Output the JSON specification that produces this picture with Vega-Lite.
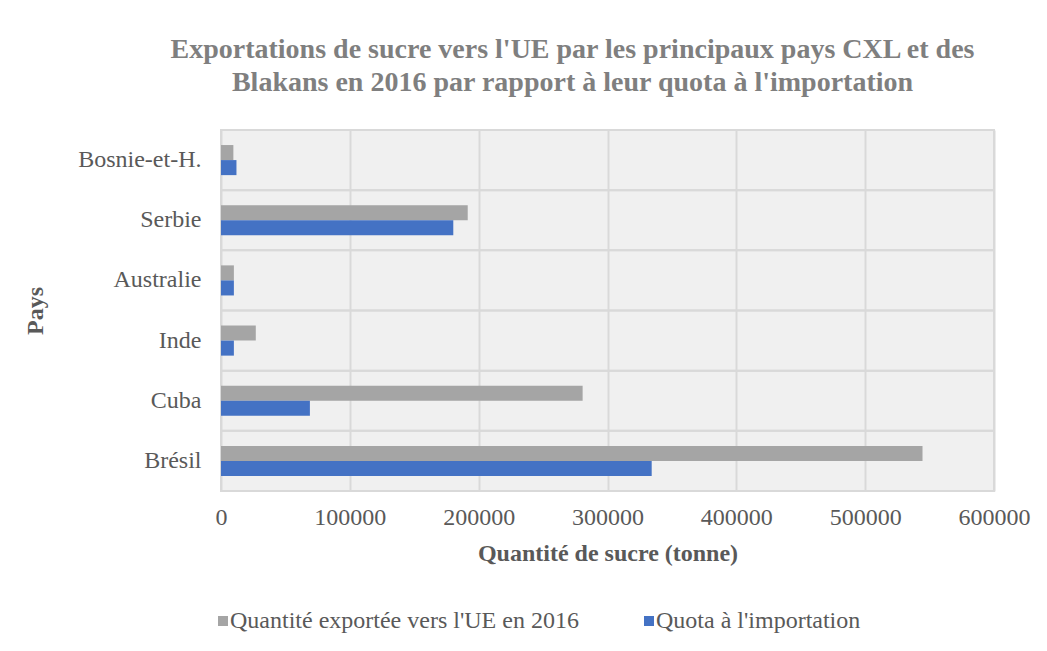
{
  "$schema": "https://vega.github.io/schema/vega-lite/v6.json",
  "width": 773,
  "height": 361,
  "autosize": {"type": "none"},
  "padding": {"left": 221, "top": 130, "right": 53, "bottom": 160},
  "background": "white",
  "title": {
    "text": ["Exportations de sucre vers l'UE par les principaux pays CXL et des", "Blakans en 2016 par rapport à leur quota à l'importation"],
    "font": "Liberation Serif",
    "fontSize": 28,
    "fontWeight": "bold",
    "color": "#7f7f7f",
    "lineHeight": 33,
    "anchor": "middle",
    "dx": -35,
    "offset": 32
  },
  "config": {
    "view": {"stroke": "#d9d9d9", "strokeWidth": 2, "fill": "#f0f0f0"},
    "font": "Liberation Serif"
  },
  "data": {
    "values": [
      {"pays": "Brésil", "serie": "Quantité exportée vers l'UE en 2016", "valeur": 544500},
      {"pays": "Brésil", "serie": "Quota à l'importation", "valeur": 334300},
      {"pays": "Cuba", "serie": "Quantité exportée vers l'UE en 2016", "valeur": 280700},
      {"pays": "Cuba", "serie": "Quota à l'importation", "valeur": 69000},
      {"pays": "Inde", "serie": "Quantité exportée vers l'UE en 2016", "valeur": 27000},
      {"pays": "Inde", "serie": "Quota à l'importation", "valeur": 10000},
      {"pays": "Australie", "serie": "Quantité exportée vers l'UE en 2016", "valeur": 10000},
      {"pays": "Australie", "serie": "Quota à l'importation", "valeur": 10000},
      {"pays": "Serbie", "serie": "Quantité exportée vers l'UE en 2016", "valeur": 191500},
      {"pays": "Serbie", "serie": "Quota à l'importation", "valeur": 180300},
      {"pays": "Bosnie-et-H.", "serie": "Quantité exportée vers l'UE en 2016", "valeur": 9600},
      {"pays": "Bosnie-et-H.", "serie": "Quota à l'importation", "valeur": 12000}
    ]
  },
  "layer": [
    {
      "mark": {"type": "rule", "color": "#d9d9d9", "strokeWidth": 2},
      "encoding": {
        "y": {"field": "pays", "type": "nominal", "bandPosition": 0,
              "sort": ["Bosnie-et-H.", "Serbie", "Australie", "Inde", "Cuba", "Brésil"],
              "scale": {"paddingInner": 0, "paddingOuter": 0}},
        "x": {"datum": 0, "type": "quantitative"},
        "x2": {"datum": 600000}
      }
    },
    {
      "mark": {"type": "bar"},
      "encoding": {
        "y": {
          "field": "pays", "type": "nominal",
          "sort": ["Bosnie-et-H.", "Serbie", "Australie", "Inde", "Cuba", "Brésil"],
          "scale": {"paddingInner": 0, "paddingOuter": 0},
          "axis": {
            "title": "Pays",
            "titleFont": "Liberation Serif",
            "titleFontSize": 24,
            "titleFontWeight": "bold",
            "titleColor": "#595959",
            "titlePadding": 30,
            "labelFont": "Liberation Serif",
            "labelFontSize": 24,
            "labelColor": "#595959",
            "labelPadding": 20,
            "labelLimit": 300,
            "ticks": false,
            "domain": false,
            "grid": false
          }
        },
        "yOffset": {
          "field": "serie", "type": "nominal",
          "sort": ["Quantité exportée vers l'UE en 2016", "Quota à l'importation"],
          "scale": {"paddingInner": 0, "paddingOuter": 1.31}
        },
        "x": {
          "field": "valeur", "type": "quantitative",
          "scale": {"domain": [0, 600000], "nice": false},
          "axis": {
            "title": "Quantité de sucre (tonne)",
            "titleFont": "Liberation Serif",
            "titleFontSize": 24,
            "titleFontWeight": "bold",
            "titleColor": "#595959",
            "titlePadding": 12,
            "labelFont": "Liberation Serif",
            "labelFontSize": 24,
            "labelColor": "#595959",
            "labelPadding": 14,
            "labelFlush": false,
            "labelOverlap": false,
            "values": [0, 100000, 200000, 300000, 400000, 500000, 600000],
            "format": "d",
            "ticks": false,
            "domain": false,
            "grid": true,
            "gridColor": "#d9d9d9",
            "gridWidth": 2
          }
        },
        "color": {
          "field": "serie", "type": "nominal",
          "sort": ["Quantité exportée vers l'UE en 2016", "Quota à l'importation"],
          "scale": {"domain": ["Quantité exportée vers l'UE en 2016", "Quota à l'importation"], "range": ["#a5a5a5", "#4472c4"]},
          "legend": {
            "title": null,
            "orient": "none",
            "legendX": -10,
            "legendY": 479,
            "direction": "horizontal",
            "symbolType": "square",
            "symbolSize": 100,
            "symbolStrokeWidth": 0,
            "labelFont": "Liberation Serif",
            "labelFontSize": 24,
            "labelColor": "#595959",
            "labelOffset": -5,
            "labelLimit": 500,
            "columnPadding": 58
          }
        }
      }
    }
  ]
}
